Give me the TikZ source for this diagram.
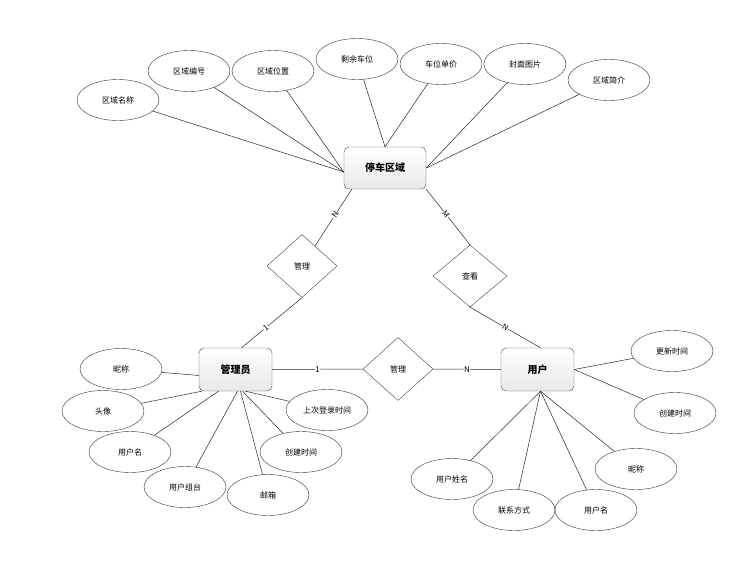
\documentclass[tikz,border=0pt]{standalone}
\usepackage{fontspec}
\setmainfont{Noto Sans CJK SC}
\usetikzlibrary{shapes.geometric}

\tikzset{
  entity/.style={draw=gray!60!black, rounded corners=5pt, top color=white, bottom color=gray!18,
    minimum width=82pt, minimum height=42pt, inner sep=0pt, font=\fontsize{10}{12}\selectfont\bfseries},
  attr/.style={ellipse, draw=gray!40!black, minimum width=82pt, minimum height=41pt, inner sep=0pt,
    font=\fontsize{8}{10}\selectfont},
  rel/.style={diamond, draw=gray!50!black, minimum width=70pt, minimum height=63pt, inner sep=0pt,
    font=\fontsize{8}{10}\selectfont},
  link/.style={draw=gray!30!black, line width=0.5pt},
  card/.style={fill=white, inner sep=0.5pt, font=\fontsize{8}{9}\selectfont, sloped}
}

\begin{document}
\begin{tikzpicture}[x=1pt, y=-1pt]
	\useasboundingbox (0,0) rectangle (740,563);

	% Entities
	\node[entity] (area) at (385,168) {停车区域};
	\node[entity, minimum width=73pt, minimum height=43pt] (admin) at (235.5,369.5) {管理员};
	\node[entity, minimum width=73pt, minimum height=43pt] (user) at (537.5,369.5) {用户};

	% Relations
	\node[rel] (manageA) at (302,266) {管理};
	\node[rel, minimum width=74pt, minimum height=62pt] (view) at (470,276) {查看};
	\node[rel] (manageU) at (398,369) {管理};

	% Attributes of the parking area
	\node[attr] (aName) at (118,100) {区域名称};
	\node[attr] (aNo) at (189,71) {区域编号};
	\node[attr] (aPos) at (273,71) {区域位置};
	\node[attr] (aFree) at (357,59) {剩余车位};
	\node[attr] (aPrice) at (441,64) {车位单价};
	\node[attr] (aPic) at (525,64) {封面图片};
	\node[attr] (aIntro) at (609,80) {区域简介};

	\draw[link] (aName) -- ([yshift=-4pt]area.west);
	\draw[link] (aNo) -- ([yshift=-4pt]area.west);
	\draw[link] (aPos) -- ([yshift=-4pt]area.west);
	\draw[link] (aFree) -- (area.north);
	\draw[link] (aPrice) -- (area.north);
	\draw[link] (aPic) -- (area.east);
	\draw[link] (aIntro) -- (area.east);

	% Attributes of the administrator
	\node[attr] (mNick) at (121,369) {昵称};
	\node[attr] (mHead) at (103,411) {头像};
	\node[attr] (mUser) at (130,452) {用户名};
	\node[attr] (mGroup) at (185,487) {用户组台};
	\node[attr] (mMail) at (268,495) {邮箱};
	\node[attr] (mCreate) at (301,452) {创建时间};
	\node[attr] (mLogin) at (327,410) {上次登录时间};

	\draw[link] (mNick) -- ([yshift=-6pt]admin.west);
	\draw[link] (mHead) -- ([xshift=3pt]admin.south west);
	\draw[link] (mUser) -- ([xshift=-17pt]admin.south);
	\draw[link] (mGroup) -- ([xshift=2pt]admin.south);
	\draw[link] (mMail) -- ([xshift=5pt]admin.south);
	\draw[link] (mCreate) -- ([xshift=7pt]admin.south);
	\draw[link] (mLogin) -- ([xshift=10pt]admin.south);

	% Attributes of the user
	\node[attr] (uUpdate) at (672,351) {更新时间};
	\node[attr] (uCreate) at (675,413) {创建时间};
	\node[attr] (uNick) at (636,469) {昵称};
	\node[attr] (uUser) at (596,510) {用户名};
	\node[attr] (uPhone) at (514,510) {联系方式};
	\node[attr] (uName) at (452,479) {用户姓名};

	\draw[link] (uUpdate) -- (user.east);
	\draw[link] (uCreate) -- (user.east);
	\draw[link] (uNick) -- ([xshift=3pt]user.south);
	\draw[link] (uUser) -- ([xshift=3pt]user.south);
	\draw[link] (uPhone) -- ([xshift=3pt]user.south);
	\draw[link] (uName) -- ([xshift=3pt]user.south);

	% Relationship lines with cardinalities
	\draw[link] ([xshift=8pt]area.south west) -- node[card, pos=0.45] {N} (manageA);
	\draw[link] (manageA.south) -- node[card, pos=0.6] {1} ([xshift=6pt]admin.north);
	\draw[link] (area.south east) -- node[card, pos=0.45] {M} (view.north);
	\draw[link] (view.south) -- node[card, pos=0.5] {N} ([xshift=3pt]user.north);
	\draw[link] (admin.east) -- node[card] {1} (manageU.west);
	\draw[link] (manageU.east) -- node[card] {N} (user.west);
\end{tikzpicture}
\end{document}
